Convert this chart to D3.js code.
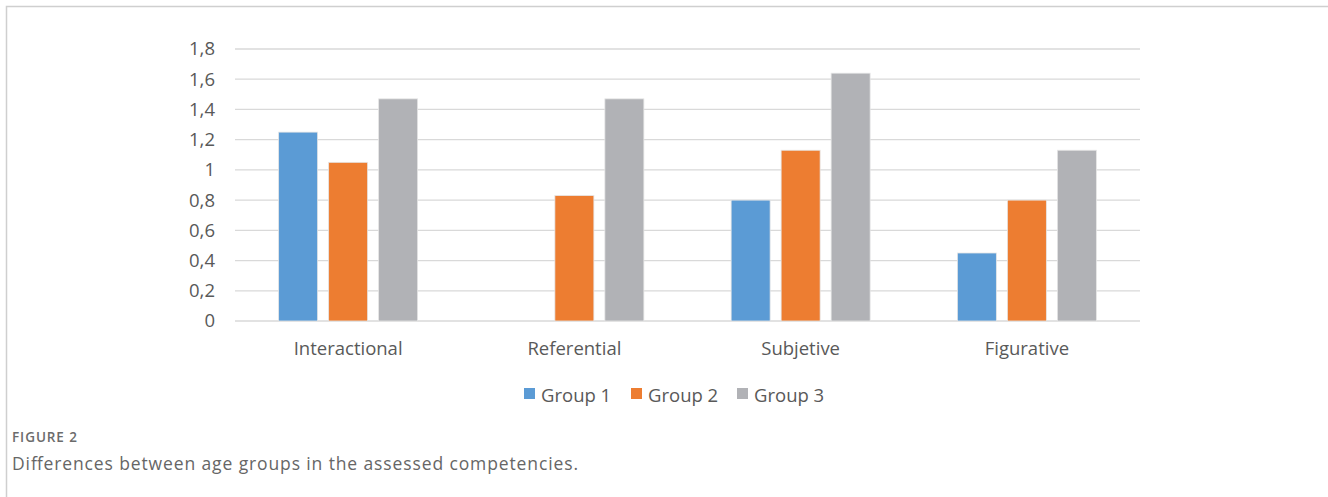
<!DOCTYPE html>
<html>
<head>
<meta charset="utf-8">
<script src="https://cdn.jsdelivr.net/npm/d3@7"></script>
<style>
  body { margin: 0; background: #fff; }
  svg text { font-family: "Open Sans", "Noto Sans", sans-serif; }
</style>
</head>
<body>
<script>
// chart data
var categories = ["Interactional", "Referential", "Subjetive", "Figurative"];
var groups = ["Group 1", "Group 2", "Group 3"];
var group1 = [1.25, 0, 0.80, 0.45];
var group2 = [1.05, 0.83, 1.13, 0.80];
var group3 = [1.47, 1.47, 1.64, 1.13];
var yTicks = [0, 0.2, 0.4, 0.6, 0.8, 1, 1.2, 1.4, 1.6, 1.8];
var colors = ["#5b9bd5", "#ed7d31", "#b1b2b6"];

var series = [group1, group2, group3];

var width = 1328, height = 497;
var svg = d3.select("body").append("svg")
    .attr("width", width)
    .attr("height", height);

// outer frame (top and left edges)
svg.append("path")
    .attr("d", "M6.5," + height + "V6.5H" + width)
    .attr("fill", "none")
    .attr("stroke", "#cfcfcf")
    .attr("stroke-width", 1.5);

var xScale = d3.scaleBand().domain(categories).range([235, 1140]);
var yScale = d3.scaleLinear().domain([0, 1.8]).range([321, 49]);

// gridlines
svg.append("g")
    .selectAll("line")
    .data(yTicks)
    .enter()
    .append("line")
    .attr("x1", 235)
    .attr("x2", 1140)
    .attr("y1", function(d) { return yScale(d); })
    .attr("y2", function(d) { return yScale(d); })
    .attr("stroke", "#d9d9d9")
    .attr("stroke-width", 1.3);

// y axis labels
var yAxis = d3.axisLeft(yScale)
    .tickValues(yTicks)
    .tickSize(0)
    .tickPadding(20)
    .tickFormat(function(d) { return d3.format("")(d).replace(".", ","); });
var yG = svg.append("g").attr("transform", "translate(235,0)").call(yAxis);
yG.select(".domain").remove();
yG.selectAll("text").attr("fill", "#595959").style("font-size", "18.5px");

// x axis labels
var xAxis = d3.axisBottom(xScale).tickSize(0).tickPadding(21);
var xG = svg.append("g").attr("transform", "translate(0,321)").call(xAxis);
xG.select(".domain").remove();
xG.selectAll("text").attr("fill", "#595959").style("font-size", "18.5px");

// bars
var barW = 39, barStep = 50;
series.forEach(function(values, gi) {
    svg.append("g")
        .selectAll("rect")
        .data(values)
        .enter()
        .append("rect")
        .attr("x", function(d, i) {
            return xScale(categories[i]) + xScale.bandwidth() / 2 - barW / 2 + (gi - 1) * barStep;
        })
        .attr("y", function(d) { return yScale(d); })
        .attr("width", barW)
        .attr("height", function(d) { return yScale(0) - yScale(d); })
        .attr("fill", colors[gi])
        .attr("stroke", function(d) { return d > 0 ? "#e6e6e6" : "none"; })
        .attr("stroke-width", 0.8);
});

// legend
var legendX = [524, 631, 737];
var legend = svg.append("g")
    .selectAll("g")
    .data(groups)
    .enter()
    .append("g")
    .attr("transform", function(d, i) { return "translate(" + legendX[i] + ",388)"; });
legend.append("rect")
    .attr("width", 11)
    .attr("height", 11)
    .attr("fill", function(d, i) { return colors[i]; });
legend.append("text")
    .attr("x", 17)
    .attr("y", 13.5)
    .attr("fill", "#595959")
    .style("font-size", "18.5px")
    .text(function(d) { return d; });

// caption
svg.append("text")
    .attr("x", 12)
    .attr("y", 442)
    .attr("fill", "#6b6b6b")
    .attr("textLength", 65)
    .style("font-size", "13.5px")
    .style("font-weight", 600)
    .text("FIGURE 2");
svg.append("text")
    .attr("x", 12)
    .attr("y", 469.5)
    .attr("fill", "#666")
    .attr("textLength", 566)
    .style("font-size", "17.5px")
    .text("Differences between age groups in the assessed competencies.");
</script>
</body>
</html>
